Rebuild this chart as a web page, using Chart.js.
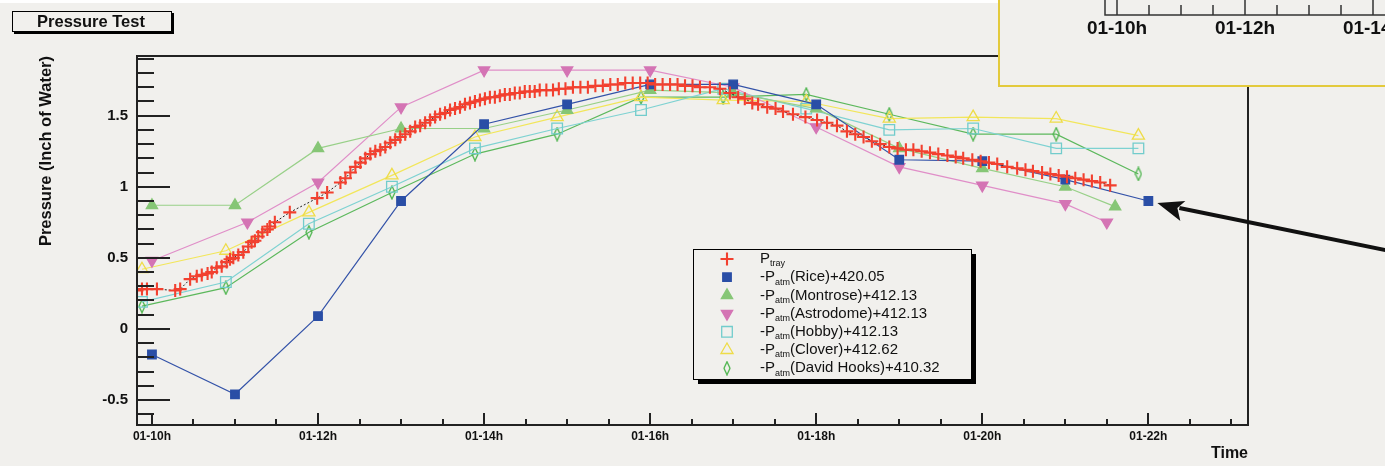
<!DOCTYPE html>
<html>
<head>
<meta charset="utf-8">
<title>Pressure Test</title>
<script src="https://cdn.jsdelivr.net/npm/chart.js"></script>
<style>
  html, body { margin: 0; padding: 0; background: #f1f0ed; }
  canvas { display: block; }
</style>
</head>
<body>
<canvas id="chart" width="1385" height="466"></canvas>
<script>
// P_tray readings: hour of day 01, pressure in inch of water
const trayHours = [
  9.82, 9.88, 9.94, 10.06, 10.28, 10.34, 10.46, 10.54, 10.60, 10.67,
  10.72, 10.78, 10.84, 10.90, 10.94, 10.98, 11.04, 11.10, 11.16, 11.20,
  11.24, 11.28, 11.33, 11.39, 11.42, 11.48, 11.66, 11.99, 12.11, 12.27,
  12.33, 12.39, 12.45, 12.51, 12.57, 12.63, 12.69, 12.75, 12.81, 12.87,
  12.93, 12.99, 13.05, 13.11, 13.17, 13.23, 13.29, 13.35, 13.41, 13.47,
  13.53, 13.59, 13.65, 13.71, 13.77, 13.83, 13.89, 13.95, 14.01, 14.07,
  14.13, 14.19, 14.25, 14.31, 14.37, 14.43, 14.49, 14.55, 14.61, 14.67,
  14.75, 14.83, 14.90, 14.98, 15.07, 15.16, 15.25, 15.34, 15.43, 15.52,
  15.61, 15.70, 15.79, 15.88, 15.97, 16.06, 16.15, 16.24, 16.33, 16.42,
  16.51, 16.60, 16.72, 16.84, 16.96, 17.06, 17.14, 17.23, 17.30, 17.41,
  17.51, 17.60, 17.72, 17.87, 18.01, 18.13, 18.25, 18.37, 18.47, 18.57,
  18.67, 18.77, 18.88, 18.98, 19.08, 19.17, 19.27, 19.37, 19.47, 19.58,
  19.68, 19.77, 19.88, 19.98, 20.08, 20.18, 20.30, 20.42, 20.52, 20.61,
  20.72, 20.82, 20.92, 21.02, 21.12, 21.22, 21.32, 21.42, 21.54
];
const trayValues = [
  0.27, 0.28, 0.28, 0.28, 0.27, 0.28, 0.35, 0.37, 0.38, 0.39,
  0.40, 0.43, 0.44, 0.47, 0.49, 0.50, 0.52, 0.54, 0.58, 0.61,
  0.62, 0.65, 0.68, 0.70, 0.72, 0.75, 0.82, 0.92, 0.96, 1.03,
  1.06, 1.10, 1.14, 1.17, 1.20, 1.23, 1.25, 1.26, 1.28, 1.31,
  1.33, 1.35, 1.37, 1.39, 1.42, 1.43, 1.45, 1.47, 1.49, 1.51,
  1.52, 1.54, 1.55, 1.56, 1.58, 1.59, 1.60, 1.61, 1.62, 1.63,
  1.63, 1.64, 1.65, 1.65, 1.66, 1.66, 1.67, 1.67, 1.67, 1.68,
  1.68, 1.68, 1.69, 1.69, 1.70, 1.70, 1.70, 1.71, 1.71, 1.72,
  1.72, 1.73, 1.73, 1.73, 1.73, 1.72, 1.72, 1.72, 1.72, 1.71,
  1.71, 1.70, 1.70, 1.69, 1.66, 1.63, 1.62, 1.59, 1.58, 1.56,
  1.55, 1.53, 1.51, 1.49, 1.47, 1.45, 1.43, 1.39, 1.37, 1.35,
  1.32, 1.30, 1.28, 1.27, 1.26, 1.26, 1.25, 1.24, 1.23, 1.22,
  1.21, 1.20, 1.19, 1.18, 1.17, 1.16, 1.14, 1.13, 1.12, 1.11,
  1.10, 1.09, 1.08, 1.07, 1.06, 1.05, 1.04, 1.03, 1.01
];

// -P_atm + offset for each weather station
const riceHours = [10, 11, 12, 13, 14, 15, 16, 17, 18, 19, 20, 21, 22];
const riceValues = [-0.18, -0.46, 0.09, 0.90, 1.44, 1.58, 1.72, 1.72, 1.58, 1.19, 1.18, 1.05, 0.90];
const montroseHours = [10, 11, 12, 13, 14, 15, 16, 17, 18, 19, 20, 21, 21.6];
const montroseValues = [0.87, 0.87, 1.27, 1.41, 1.41, 1.54, 1.68, 1.66, 1.55, 1.27, 1.13, 1.00, 0.86];
const astrodomeHours = [10, 11.15, 12, 13, 14, 15, 16, 17, 18, 19, 20, 21, 21.5];
const astrodomeValues = [0.48, 0.75, 1.03, 1.56, 1.82, 1.82, 1.82, 1.70, 1.42, 1.14, 1.01, 0.88, 0.75];
const siteHours = [9.88, 10.89, 11.89, 12.89, 13.89, 14.88, 15.89, 16.88, 17.88, 18.88, 19.89, 20.89, 21.88];
const hobbyValues = [0.19, 0.33, 0.74, 1.00, 1.27, 1.41, 1.54, 1.69, 1.55, 1.40, 1.41, 1.27, 1.27];
const cloverValues = [0.42, 0.55, 0.82, 1.08, 1.35, 1.49, 1.63, 1.61, 1.60, 1.48, 1.49, 1.48, 1.36];
const hooksValues = [0.16, 0.29, 0.68, 0.96, 1.23, 1.37, 1.63, 1.63, 1.65, 1.51, 1.37, 1.37, 1.09];

const stationNames = ["Rice", "Montrose", "Astrodome", "Hobby", "Clover", "David Hooks"];
const stationOffsets = ["420.05", "412.13", "412.13", "412.13", "412.62", "410.32"];

// tick labels: day 01, every second hour
const dayPrefix = "01-";
const insetTickLabels = ["01-10h", "01-12h", "01-14h"];

const FONT = "'Liberation Sans', Arial, Helvetica, sans-serif";
const BG = "#f1f0ed";
Chart.defaults.font.family = FONT;

const toPoints = (xs, ys) => xs.map((h, i) => ({ x: h, y: ys[i] }));

// narrow open diamond like the ROOT marker
function makeDiamond(color) {
  const c = document.createElement("canvas");
  c.width = 8;
  c.height = 15;
  const g = c.getContext("2d");
  g.strokeStyle = color;
  g.lineWidth = 1.3;
  g.beginPath();
  g.moveTo(4, 1);
  g.lineTo(7, 7.5);
  g.lineTo(4, 14);
  g.lineTo(1, 7.5);
  g.closePath();
  g.stroke();
  return c;
}

const stationStyles = [
  { line: "#3352a8", color: "#2a4ea6", fill: "#2a4ea6", style: "rect", radius: 6, rot: 0 },
  { line: "#98d088", color: "#86c676", fill: "#86c676", style: "triangle", radius: 6.5, rot: 0 },
  { line: "#e08ec8", color: "#d474b4", fill: "#d474b4", style: "triangle", radius: 6.5, rot: 180 },
  { line: "#7ed2d2", color: "#72cccc", fill: "rgba(0,0,0,0)", style: "rect", radius: 7.5, rot: 0 },
  { line: "#f2e65a", color: "#eedc48", fill: "rgba(0,0,0,0)", style: "triangle", radius: 7, rot: 0 },
  { line: "#5cb85c", color: "#4cb44c", fill: "rgba(0,0,0,0)", style: makeDiamond("#4cb44c"), radius: 6, rot: 0 },
];
const stationPoints = [
  toPoints(riceHours, riceValues),
  toPoints(montroseHours, montroseValues),
  toPoints(astrodomeHours, astrodomeValues),
  toPoints(siteHours, hobbyValues),
  toPoints(siteHours, cloverValues),
  toPoints(siteHours, hooksValues),
];

const datasets = [
  {
    label: "Ptray",
    legendMain: "P", legendSub: "tray", legendRest: "",
    data: toPoints(trayHours, trayValues),
    borderColor: "#222",
    borderWidth: 1,
    borderDash: [2, 2],
    pointStyle: "cross",
    pointRadius: 6.5,
    pointBorderColor: "#f2402f",
    pointBackgroundColor: "#f2402f",
    pointBorderWidth: 2.1,
  },
].concat(stationNames.map((name, i) => ({
  label: "-Patm(" + name + ")+" + stationOffsets[i],
  legendMain: "-P", legendSub: "atm", legendRest: "(" + name + ")+" + stationOffsets[i],
  data: stationPoints[i],
  borderColor: stationStyles[i].line,
  borderWidth: 1.2,
  pointStyle: stationStyles[i].style,
  pointRotation: stationStyles[i].rot,
  pointRadius: stationStyles[i].radius,
  pointBorderColor: stationStyles[i].color,
  pointBackgroundColor: stationStyles[i].fill,
  pointBorderWidth: 1.3,
})));

// ROOT-like frame, inner ticks, legend, title box and overlays
const rootStyle = {
  id: "rootStyle",
  beforeDraw(chart) {
    const { ctx, width, height } = chart;
    ctx.save();
    ctx.fillStyle = BG;
    ctx.fillRect(0, 0, width, height);
    ctx.fillStyle = "#fff";
    ctx.fillRect(0, 0, 999, 3);
    ctx.restore();
  },
  afterDatasetsDraw(chart) {
    const { ctx, chartArea: a, scales } = chart;
    const x = scales.x, y = scales.y;
    ctx.save();
    ctx.strokeStyle = "#222";
    ctx.lineWidth = 2;
    ctx.beginPath();
    y.ticks.forEach((t) => {
      const py = Math.round(y.getPixelForValue(t.value));
      const len = t.label ? 33 : 17;
      ctx.moveTo(a.left, py);
      ctx.lineTo(a.left + len, py);
    });
    x.ticks.forEach((t) => {
      const px = Math.round(x.getPixelForValue(t.value));
      const len = t.label ? 12 : 6;
      ctx.moveTo(px, a.bottom);
      ctx.lineTo(px, a.bottom - len);
    });
    ctx.stroke();
    ctx.strokeRect(a.left, a.top, a.right - a.left, a.bottom - a.top);
    ctx.restore();
  },
  afterDraw(chart) {
    const { ctx, scales } = chart;
    ctx.save();

    // legend
    const lx = 693, ly = 249, lw = 278, lh = 130;
    ctx.fillStyle = "#000";
    ctx.fillRect(lx + 5, ly + 5, lw, lh);
    ctx.fillStyle = BG;
    ctx.fillRect(lx, ly, lw, lh);
    ctx.strokeStyle = "#000";
    ctx.lineWidth = 1;
    ctx.strokeRect(lx + 0.5, ly + 0.5, lw, lh);
    chart.data.datasets.forEach((ds, i) => {
      const cy = ly + 10 + i * 18.2;
      ctx.save();
      ctx.fillStyle = ds.pointBackgroundColor;
      ctx.strokeStyle = ds.pointBorderColor;
      ctx.lineWidth = ds.pointBorderWidth;
      Chart.helpers.drawPoint(ctx, {
        pointStyle: ds.pointStyle,
        rotation: ds.pointRotation || 0,
        radius: ds.pointRadius,
        borderWidth: ds.pointBorderWidth,
      }, lx + 34, cy);
      ctx.restore();
      ctx.fillStyle = "#111";
      ctx.textBaseline = "middle";
      ctx.textAlign = "left";
      let tx = lx + 67;
      ctx.font = "15px " + FONT;
      ctx.fillText(ds.legendMain, tx, cy);
      tx += ctx.measureText(ds.legendMain).width;
      ctx.font = "9px " + FONT;
      ctx.fillText(ds.legendSub, tx, cy + 5);
      tx += ctx.measureText(ds.legendSub).width;
      ctx.font = "15px " + FONT;
      ctx.fillText(ds.legendRest, tx, cy);
    });

    // title box
    ctx.fillStyle = "#000";
    ctx.fillRect(14, 13, 160, 21);
    ctx.fillStyle = BG;
    ctx.fillRect(12, 11, 160, 21);
    ctx.strokeStyle = "#000";
    ctx.lineWidth = 1;
    ctx.strokeRect(12.5, 11.5, 159, 20);
    ctx.fillStyle = "#111";
    ctx.font = "bold 16.5px " + FONT;
    ctx.textAlign = "center";
    ctx.textBaseline = "middle";
    ctx.fillText("Pressure Test", 91, 22);

    // overlapping inset of another canvas (top right)
    ctx.fillStyle = BG;
    ctx.fillRect(999, 0, 386, 86);
    ctx.strokeStyle = "#e3ca3c";
    ctx.lineWidth = 2;
    ctx.beginPath();
    ctx.moveTo(999, 0);
    ctx.lineTo(999, 86);
    ctx.lineTo(1385, 86);
    ctx.stroke();
    ctx.strokeStyle = "#333";
    ctx.lineWidth = 1.5;
    ctx.beginPath();
    ctx.moveTo(1105, 0);
    ctx.lineTo(1105, 15);
    ctx.lineTo(1385, 15);
    for (let k = 0; k < 9; k++) {
      const px = 1117 + k * 32;
      ctx.moveTo(px, 15);
      ctx.lineTo(px, k % 4 === 0 ? 0 : 5);
    }
    ctx.stroke();
    ctx.fillStyle = "#111";
    ctx.font = "bold 19px " + FONT;
    insetTickLabels.forEach((lab, k) => ctx.fillText(lab, 1117 + k * 128, 29));

    // arrow pointing at the last Rice point
    const last = riceHours.length - 1;
    const tipX = scales.x.getPixelForValue(riceHours[last]) + 9;
    const tipY = scales.y.getPixelForValue(riceValues[last]) + 2;
    ctx.strokeStyle = "#111";
    ctx.fillStyle = "#111";
    ctx.lineWidth = 4;
    ctx.beginPath();
    ctx.moveTo(1390, 251);
    ctx.lineTo(tipX + 22, tipY + 5);
    ctx.stroke();
    ctx.beginPath();
    ctx.moveTo(tipX, tipY);
    ctx.lineTo(tipX + 28, tipY - 2);
    ctx.lineTo(tipX + 20, tipY + 5);
    ctx.lineTo(tipX + 23, tipY + 18);
    ctx.closePath();
    ctx.fill();

    ctx.restore();
  },
};

new Chart(document.getElementById("chart"), {
  type: "line",
  data: { datasets },
  options: {
    responsive: false,
    animation: false,
    layout: { padding: { left: 0, top: 56, right: 137, bottom: 0 } },
    elements: { line: { tension: 0 } },
    plugins: {
      legend: { display: false },
      tooltip: { enabled: false },
    },
    scales: {
      x: {
        type: "linear",
        min: 9.82,
        max: 23.2,
        afterFit: (s) => { s.height = 41; },
        grid: { display: false, drawTicks: false },
        border: { display: false },
        ticks: {
          stepSize: 0.5,
          includeBounds: false,
          autoSkip: false,
          maxRotation: 0,
          padding: 4,
          color: "#111",
          font: { size: 12, weight: "bold" },
          callback: (v) => (Number.isInteger(v) && v % 2 === 0 ? dayPrefix + v + "h" : ""),
        },
        title: {
          display: true,
          text: "Time",
          align: "end",
          color: "#111",
          font: { size: 16, weight: "bold" },
          padding: { top: 0, bottom: 3 },
        },
      },
      y: {
        min: -0.676,
        max: 1.92,
        afterFit: (s) => { s.width = 137; },
        grid: { display: false, drawTicks: false },
        border: { display: false },
        ticks: {
          stepSize: 0.1,
          includeBounds: false,
          autoSkip: false,
          padding: 9,
          color: "#111",
          font: { size: 15, weight: "bold" },
          callback: (v) => (Math.abs(v * 2 - Math.round(v * 2)) < 1e-9 ? String(Math.round(v * 10) / 10) : ""),
        },
        title: {
          display: true,
          text: "Pressure (Inch of Water)",
          align: "end",
          color: "#111",
          font: { size: 16.5, weight: "bold" },
          padding: { top: 37, bottom: 0 },
        },
      },
    },
  },
  plugins: [rootStyle],
});
</script>
</body>
</html>
